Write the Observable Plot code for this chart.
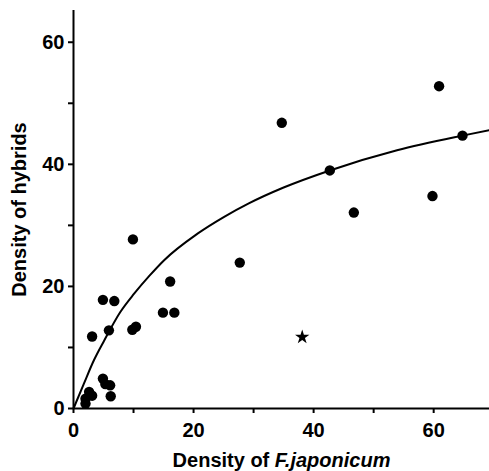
<!DOCTYPE html>
<html>
<head>
<meta charset="utf-8">
<script src="https://cdn.jsdelivr.net/npm/d3@7"></script>
<script src="https://cdn.jsdelivr.net/npm/@observablehq/plot@0.6"></script>
<style>
  html, body { margin: 0; padding: 0; background: #fff; }
</style>
</head>
<body>
<div id="chart"></div>
<script>
// Observed points: density of F. japonicum (x) vs density of hybrids (y)
const hybridX = [34.7, 42.7, 46.7, 59.8, 60.9, 64.8, 9.9, 27.7, 16.1, 4.9, 6.8, 14.9, 16.8, 3.1, 5.9, 9.8, 10.4, 4.9, 5.3, 6.1, 6.2, 2.6, 3.1, 2.0, 2.0];
const hybridY = [46.8, 39.0, 32.1, 34.8, 52.8, 44.7, 27.7, 23.9, 20.8, 17.8, 17.6, 15.7, 15.7, 11.8, 12.8, 12.9, 13.4, 4.9, 4.0, 3.8, 2.0, 2.7, 2.1, 1.6, 0.8];

// Special (star) point
const starX = [38.1];
const starY = [11.7];

// Fitted curve
const curveX = [0, 1.7, 3.4, 5.1, 7.8, 10.1, 12.7, 15.1, 20.6, 25.1, 29.2, 35.0, 42.7, 53.9, 64.8, 69.3];
const curveY = [0, 4.0, 7.9, 11.1, 15.8, 18.8, 21.8, 24.3, 28.6, 31.4, 33.6, 36.2, 39.0, 42.3, 44.7, 45.6];

// Ticks
const xTicks = [0, 10, 20, 30, 40, 50, 60];
const yTicks = [0, 10, 20, 30, 40, 50, 60];
const labelEvery = 20;

const points = hybridX.map((x, i) => ({x, y: hybridY[i]}));
const stars = starX.map((x, i) => ({x, y: starY[i]}));
const curve = curveX.map((x, i) => ({x, y: curveY[i]}));

const plot = Plot.plot({
  width: 489,
  height: 471,
  marginLeft: 73,
  marginRight: 0,
  marginTop: 10,
  marginBottom: 63,
  style: {
    fontFamily: "'Liberation Sans', Arial, sans-serif",
    fontSize: "20px",
    fontWeight: "bold",
    color: "#000",
    background: "#fff"
  },
  x: {domain: [0, 69.3]},
  y: {domain: [0, 65.2]},
  marks: [
    Plot.axisX({
      ticks: xTicks,
      tickFormat: d => d % labelEvery === 0 ? String(d) : "",
      tickSize: 5,
      tickPadding: 9,
      strokeWidth: 2,
      label: "Density of F.japonicum",
      labelAnchor: "center",
      labelArrow: "none",
      labelOffset: 58
    }),
    Plot.axisY({
      ticks: yTicks,
      tickFormat: d => d % labelEvery === 0 ? String(d) : "",
      tickSize: 5,
      tickPadding: 4,
      strokeWidth: 2,
      label: "Density of hybrids",
      labelAnchor: "center",
      labelArrow: "none",
      labelOffset: 62
    }),
    Plot.ruleX([0], {stroke: "#000", strokeWidth: 2}),
    Plot.ruleY([0], {stroke: "#000", strokeWidth: 2}),
    Plot.line(curve, {x: "x", y: "y", stroke: "#000", strokeWidth: 2, curve: "monotone-x"}),
    Plot.dot(points, {x: "x", y: "y", r: 5.2, fill: "#000", stroke: "none"}),
    Plot.dot(stars, {x: "x", y: "y", r: 4.5, symbol: "star", fill: "#000", stroke: "none"})
  ]
});

document.getElementById("chart").appendChild(plot);

// Italicise the species name in the x-axis title
const xl = plot.querySelector('[aria-label="x-axis label"] text');
if (xl) {
  xl.textContent = "";
  const t1 = document.createElementNS("http://www.w3.org/2000/svg", "tspan");
  t1.textContent = "Density of ";
  const t2 = document.createElementNS("http://www.w3.org/2000/svg", "tspan");
  t2.textContent = "F.japonicum";
  t2.setAttribute("font-style", "italic");
  xl.appendChild(t1);
  xl.appendChild(t2);
}
</script>
</body>
</html>
